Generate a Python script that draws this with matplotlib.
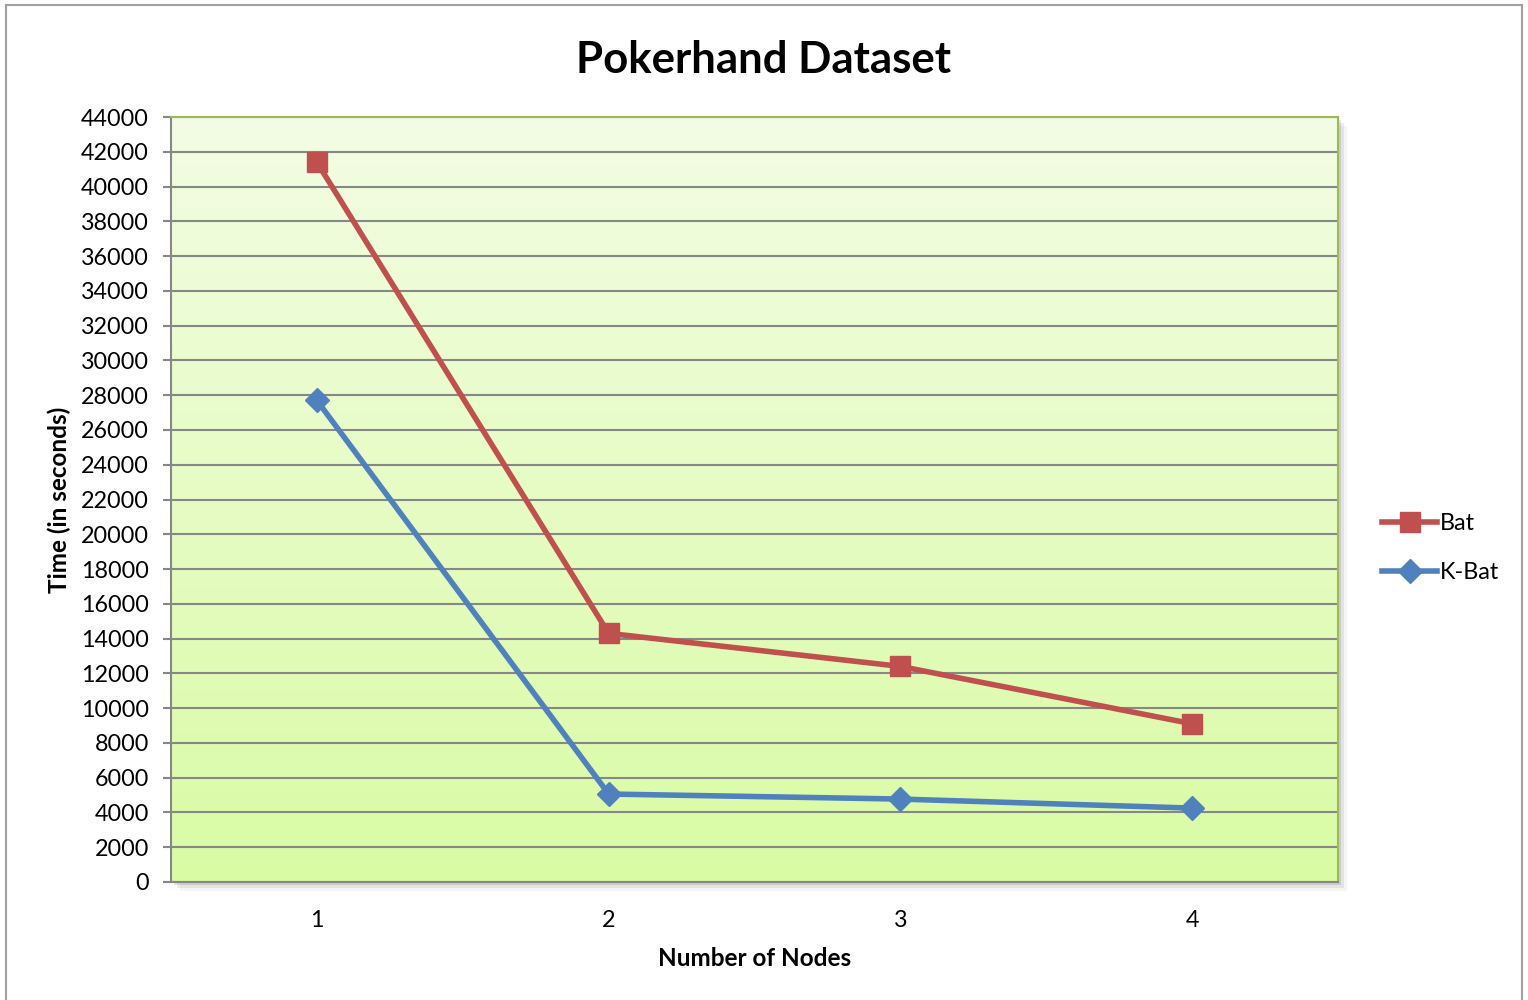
import numpy as np
import matplotlib.pyplot as plt
from matplotlib.patches import Rectangle
from matplotlib.colors import LinearSegmentedColormap

plt.rcParams['font.family'] = ['Lato', 'DejaVu Sans']

# Execution time per cluster size
nodes = [1, 2, 3, 4]
bat_time = [41400, 14300, 12400, 9100]
kbat_time = [27700, 5060, 4770, 4250]
y_ticks = list(range(0, 44001, 2000))

fig = plt.figure(figsize=(15.28, 10), dpi=100)
fig.patch.set_facecolor('white')

# outer chart frame
fig.patches.append(Rectangle((0.004, -0.01), 0.992, 1.005, transform=fig.transFigure,
                             fill=False, edgecolor='#a0a0a0', linewidth=1.5))

ax_rect = [0.1119, 0.118, 0.7638, 0.765]

# soft drop shadow behind the plot area
for i, a in enumerate([0.10, 0.07, 0.04]):
    off = 0.002 * (i + 1)
    fig.patches.append(Rectangle((ax_rect[0] + off, ax_rect[1] - off * 1.5), ax_rect[2], ax_rect[3],
                                 transform=fig.transFigure, facecolor='black', alpha=a,
                                 edgecolor='none', zorder=0))

ax = fig.add_axes(ax_rect)
ax.set_zorder(5)

# vertical gradient fill
cmap = LinearSegmentedColormap.from_list('grn', ['#d9fba4', '#f3fde4'])
grad = np.linspace(0, 1, 256).reshape(-1, 1)
ax.imshow(grad, aspect='auto', cmap=cmap, origin='lower', extent=[0, 1, 0, 1],
          transform=ax.transAxes, zorder=0)

ax.plot(nodes, bat_time, color='#c0504d', lw=4, marker='s', markersize=15,
        label='Bat', zorder=3)
ax.plot(nodes, kbat_time, color='#4f81bd', lw=4, marker='D', markersize=12.5,
        label='K-Bat', zorder=3)

ax.set_xlim(0.5, 4.5)
ax.set_ylim(0, 44000)
ax.set_yticks(y_ticks)
ax.set_xticks(nodes)
ax.yaxis.grid(True, color='#878787', linewidth=1.5)
ax.set_axisbelow(True)

ax.tick_params(axis='y', length=6, width=1.5, color='#878787', labelsize=16.8, pad=10)
ax.tick_params(axis='x', length=0, labelsize=16.8, pad=20)

ax.spines['left'].set_color('#878787')
ax.spines['left'].set_linewidth(1.5)
ax.spines['bottom'].set_color('#878787')
ax.spines['bottom'].set_linewidth(1.5)
for s in ['top', 'right']:
    ax.spines[s].set_color('#9bbb59')
    ax.spines[s].set_linewidth(1.5)

ax.set_title('Pokerhand Dataset', fontsize=31.5, fontweight='bold', pad=32, x=0.508)
ax.set_xlabel('Number of Nodes', fontsize=17.5, fontweight='bold', labelpad=12)
ax.set_ylabel('Time (in seconds)', fontsize=17.5, fontweight='bold')
ax.yaxis.set_label_coords(-0.086, 0.5)

ax.legend(loc='center left', bbox_to_anchor=(1.02, 0.436), frameon=False, fontsize=16.8,
          handlelength=2.35, handletextpad=0.12, labelspacing=1.2)

fig.savefig('out.png', dpi=100, facecolor='white')
